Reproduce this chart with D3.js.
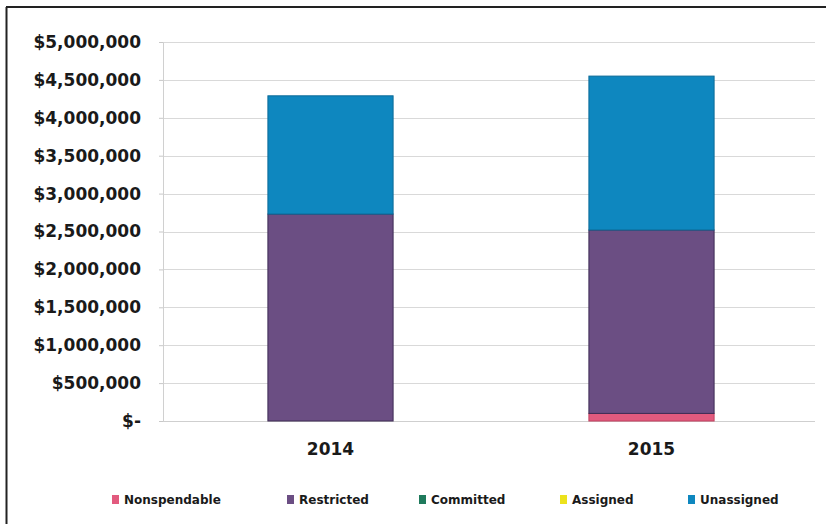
<!DOCTYPE html>
<html><head><meta charset="utf-8">
<script src="https://cdn.jsdelivr.net/npm/d3@7"></script>
<style>
body{margin:0;background:#fff;}
svg{display:block;}
</style></head>
<body><svg id="c" width="826" height="524"></svg>
<script>
const years = ["2014", "2015"];
const seriesNames = ["Nonspendable", "Restricted", "Committed", "Assigned", "Unassigned"];
const nonspendable = [0, 100000];
const restricted = [2730000, 2420000];
const committed = [0, 0];
const assigned = [0, 0];
const unassigned = [1560000, 2030000];
const tickValues = [0, 500000, 1000000, 1500000, 2000000, 2500000, 3000000, 3500000, 4000000, 4500000, 5000000];
const tickLabels = ["$-", "$500,000", "$1,000,000", "$1,500,000", "$2,000,000", "$2,500,000", "$3,000,000", "$3,500,000", "$4,000,000", "$4,500,000", "$5,000,000"];
const colors = ["#e25a7e", "#6b4e83", "#1f7a5c", "#ece21c", "#0e87bf"];
const strokes = ["#c0405f", "#3e2c55", "#15563f", "#b9ae10", "#0a6a98"];

(function () {
const rows = years.map((yr, i) => ({
  year: yr,
  Nonspendable: nonspendable[i], Restricted: restricted[i], Committed: committed[i],
  Assigned: assigned[i], Unassigned: unassigned[i]
}));

const svg = d3.select("#c");
const font = "'DejaVu Sans', sans-serif";

// frame lines (scan border)
svg.append("line").attr("x1", 6.5).attr("x2", 6.5).attr("y1", 7).attr("y2", 524).attr("stroke", "#222").attr("stroke-width", 2);
svg.append("line").attr("x1", 6).attr("x2", 826).attr("y1", 7).attr("y2", 7).attr("stroke", "#222").attr("stroke-width", 2);

const mLeft = 163, mRight = 815, mTop = 42, mBottom = 421;
const x = d3.scaleBand().domain(years).range([170, 812]).paddingInner(0.61).paddingOuter(0.305);
const y = d3.scaleLinear().domain([0, 5000000]).range([mBottom, mTop]);

// gridlines
svg.append("g").selectAll("line").data(tickValues.filter(v => v > 0)).join("line")
  .attr("x1", mLeft).attr("x2", mRight)
  .attr("y1", d => Math.round(y(d)) + 0.5).attr("y2", d => Math.round(y(d)) + 0.5)
  .attr("stroke", "#d9d9d9").attr("stroke-width", 1);

// y axis
const yAxis = d3.axisLeft(y).tickValues(tickValues)
  .tickFormat((d, i) => tickLabels[i]).tickSize(4).tickPadding(18);
const gy = svg.append("g").attr("transform", `translate(${mLeft},0)`).call(yAxis);
gy.select(".domain").attr("stroke", "#d0d0d0");
gy.selectAll(".tick line").attr("stroke", "#c8c8c8");
gy.selectAll(".tick text").attr("font-family", font).attr("font-weight", "bold")
  .attr("font-size", "17px").attr("fill", "#1a1a1a");

// baseline
svg.append("line").attr("x1", mLeft).attr("x2", mRight).attr("y1", mBottom + 0.5).attr("y2", mBottom + 0.5)
  .attr("stroke", "#cfcfcf");

// stacked bars
const stack = d3.stack().keys(seriesNames)(rows);
svg.append("g").selectAll("g").data(stack).join("g")
  .attr("fill", (d, i) => colors[i]).attr("stroke", (d, i) => strokes[i])
  .selectAll("rect").data(d => d.filter(s => s[1] - s[0] > 0)).join("rect")
  .attr("x", d => x(d.data.year))
  .attr("width", x.bandwidth())
  .attr("y", d => y(d[1]))
  .attr("height", d => y(d[0]) - y(d[1]))
  .attr("stroke-width", 1);

// x axis labels
const xAxis = d3.axisBottom(x).tickSize(0).tickPadding(22);
const gx = svg.append("g").attr("transform", `translate(0,${mBottom})`).call(xAxis);
gx.select(".domain").remove();
gx.selectAll(".tick text").attr("font-family", font).attr("font-weight", "bold")
  .attr("font-size", "17px").attr("fill", "#1a1a1a");

// legend
const legendX = [112, 287, 419, 560, 688];
const lg = svg.append("g").selectAll("g").data(seriesNames).join("g")
  .attr("transform", (d, i) => `translate(${legendX[i]},500)`);
lg.append("rect").attr("x", 0).attr("y", -5).attr("width", 7).attr("height", 9)
  .attr("fill", (d, i) => colors[i]);
lg.append("text").attr("x", 12).attr("y", 0).attr("dy", "0.35em")
  .attr("font-family", font).attr("font-weight", "bold").attr("font-size", "12px")
  .attr("fill", "#1a1a1a").text(d => d);
})();
</script></body></html>
